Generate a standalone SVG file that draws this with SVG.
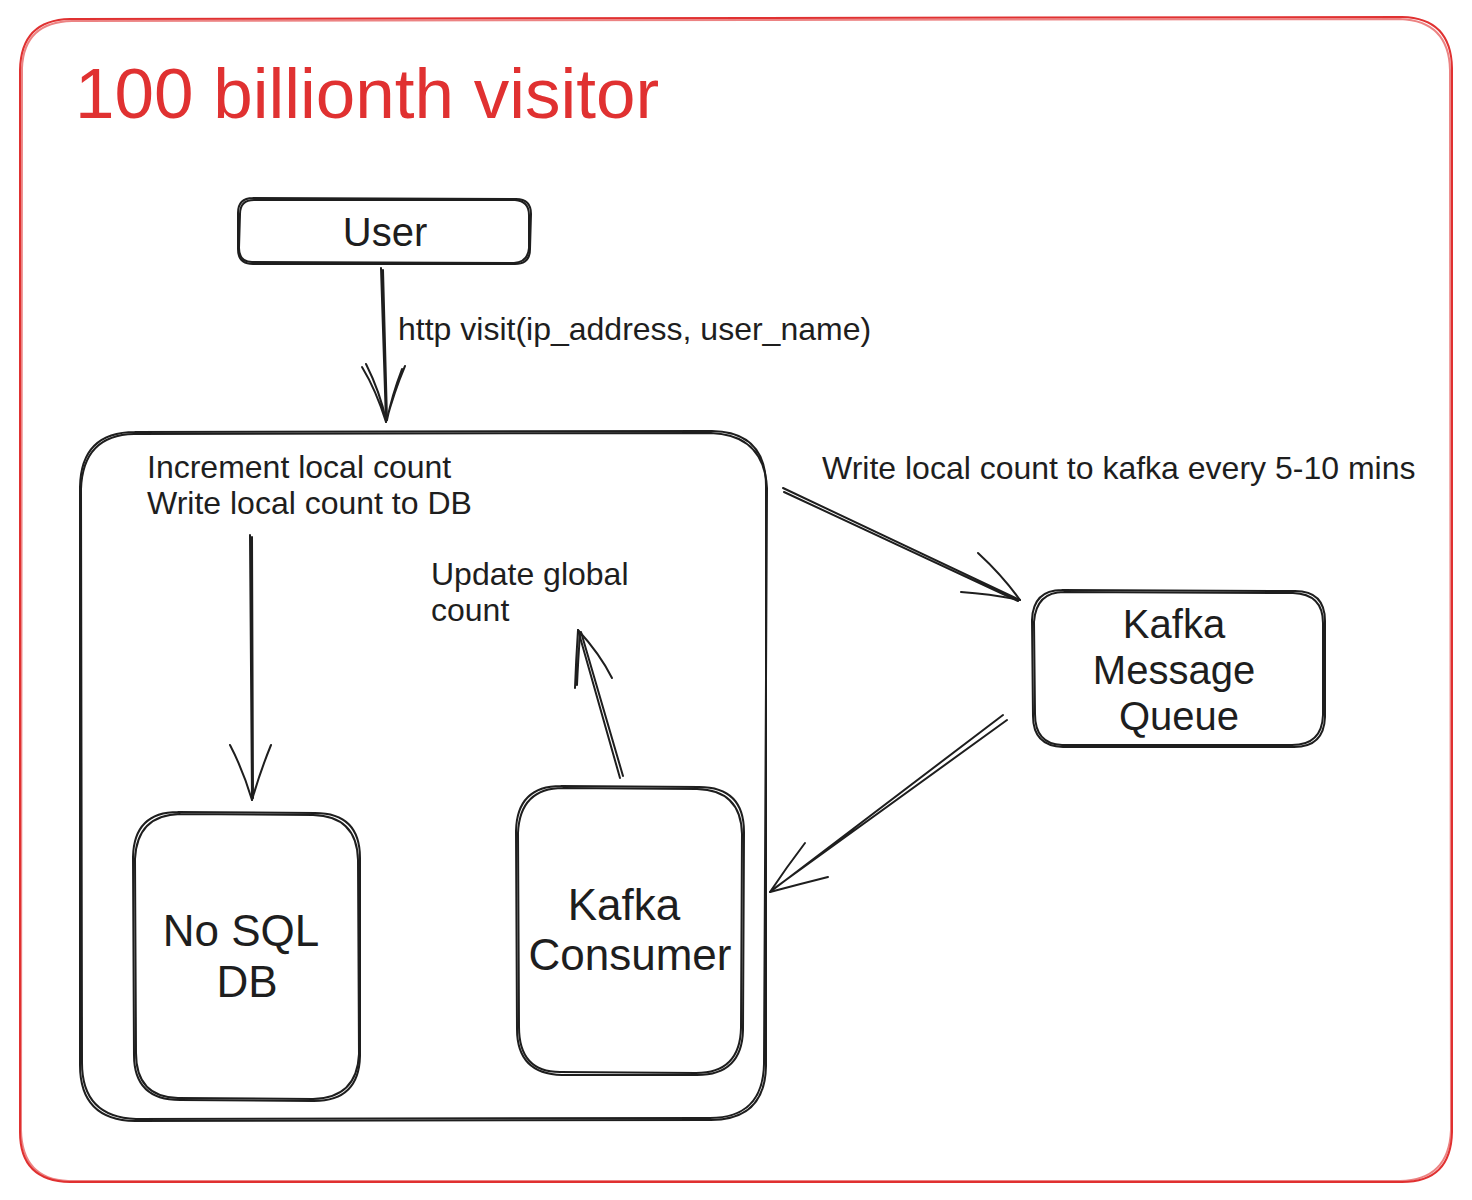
<svg xmlns="http://www.w3.org/2000/svg" width="1472" height="1200" viewBox="0 0 1472 1200">
<style>
  .frame{fill:none;stroke:#e03131;stroke-width:2;stroke-linecap:round}
  .box{fill:none;stroke:#1e1e1e;stroke-width:2;stroke-linecap:round}
  .ln{fill:none;stroke:#1e1e1e;stroke-width:2;stroke-linecap:round;stroke-linejoin:round}
  .t{font-family:"Liberation Sans",Arial,Helvetica,sans-serif;fill:#1e1e1e}
  .lbl{font-size:32px}
  .big{font-size:44px;text-anchor:middle}
  .mid{font-size:40px;text-anchor:middle}
</style>
<rect width="1472" height="1200" fill="#ffffff"/>
<g id="frame">
  <path class="frame" d="M70 19 L1402 17 Q1451 18 1452 68 L1452 1132 Q1451 1182 1402 1182 L70 1182 Q20 1181 20 1132 L20 70 Q21 20 70 19"/>
  <path class="frame" d="M72 21 L1400 19 Q1449 21 1450 70 L1451 1130 Q1449 1180 1400 1181 L68 1181 Q22 1179 21 1130 L22 68 Q24 22 72 21" stroke-opacity="0.6"/>
  <text class="t" x="75" y="118" font-size="71" style="fill:#e03131">100 billionth visitor</text>
</g>
<g id="user">
  <path class="box" d="M253 198 L516 199 Q531 199 531 214 L530 249 Q530 264 515 264 L253 264 Q238 264 238 249 L238 213 Q238 198 253 198"/>
  <path class="box" d="M254 200 L515 200 Q529 201 529 215 L529 248 Q528 262 514 263 L252 262 Q239 262 239 248 L240 214 Q240 200 254 200" stroke-width="1"/>
  <text class="t mid" x="385" y="246">User</text>
</g>
<g id="service">
  <path class="box" d="M135 432 L712 431 Q766 432 766 486 L766 1066 Q765 1120 711 1120 L135 1121 Q80 1120 80 1065 L80 487 Q81 432 135 432"/>
  <path class="box" d="M134 434 L711 433 Q764 435 767 488 L764 1064 Q763 1118 710 1118 L136 1119 Q82 1117 82 1063 L81 489 Q83 435 134 434" stroke-width="1"/>
  <text class="t lbl" x="147" y="478">Increment local count</text>
  <text class="t lbl" x="147" y="514">Write local count to DB</text>
  <text class="t lbl" x="431" y="585">Update global</text>
  <text class="t lbl" x="431" y="621">count</text>
</g>
<g id="nosql">
  <path class="box" d="M178 812 L315 813 Q360 813 360 858 L360 1056 Q359 1101 314 1101 L180 1100 Q134 1100 134 1055 L133 857 Q134 812 178 812"/>
  <path class="box" d="M180 814 L313 815 Q357 816 358 860 L359 1054 Q357 1098 313 1099 L178 1098 Q136 1097 136 1053 L135 859 Q137 815 180 814" stroke-width="1"/>
  <text class="t big" x="241" y="946">No SQL</text>
  <text class="t big" x="247" y="997">DB</text>
</g>
<g id="consumer">
  <path class="box" d="M561 786 L699 787 Q744 787 744 832 L743 1030 Q742 1075 697 1075 L562 1075 Q517 1074 517 1029 L516 831 Q517 786 561 786"/>
  <path class="box" d="M563 788 L697 789 Q741 790 742 834 L741 1028 Q740 1073 696 1073 L560 1072 Q519 1072 519 1027 L518 833 Q520 788 563 788" stroke-width="1"/>
  <text class="t big" x="624" y="920">Kafka</text>
  <text class="t big" x="630" y="970">Consumer</text>
</g>
<g id="kafka">
  <path class="box" d="M1062 590 L1295 591 Q1325 591 1325 621 L1325 717 Q1324 747 1294 747 L1063 747 Q1033 746 1033 716 L1032 620 Q1033 590 1062 590"/>
  <path class="box" d="M1064 592 L1293 593 Q1323 594 1323 623 L1323 715 Q1322 745 1292 745 L1062 745 Q1035 744 1035 714 L1034 622 Q1036 592 1064 592" stroke-width="1"/>
  <text class="t mid" x="1174" y="638">Kafka</text>
  <text class="t mid" x="1174" y="684">Message</text>
  <text class="t mid" x="1179" y="730">Queue</text>
</g>
<g id="connectors">
  <path class="ln" d="M381 268 L386 422 M383 270 L387 420"/>
  <path class="ln" d="M362 367 Q376 390 386 422 M366 364 Q380 392 386 420 M405 366 Q394 392 386 422 M402 369 Q392 395 387 420"/>
  <text class="t lbl" x="398" y="340">http visit(ip_address, user_name)</text>

  <path class="ln" d="M250 535 L252 800 M252 537 L253 798"/>
  <path class="ln" d="M230 745 Q243 770 252 800 M271 745 Q260 772 252 800"/>

  <path class="ln" d="M620 778 L578 630 M623 776 L581 632"/>
  <path class="ln" d="M578 630 Q576 660 575 688 M578 630 Q600 654 612 678 M580 634 Q578 662 577 685"/>

  <path class="ln" d="M783 488 L1020 600 M784 492 L1018 601"/>
  <path class="ln" d="M978 553 Q1002 575 1020 600 M961 592 Q990 594 1020 600"/>
  <text class="t lbl" x="822" y="479">Write local count to kafka every 5-10 mins</text>

  <path class="ln" d="M1003 715 L770 892 M1007 720 L772 890"/>
  <path class="ln" d="M805 843 Q786 868 770 892 M828 877 Q800 884 770 892"/>
</g>
</svg>
